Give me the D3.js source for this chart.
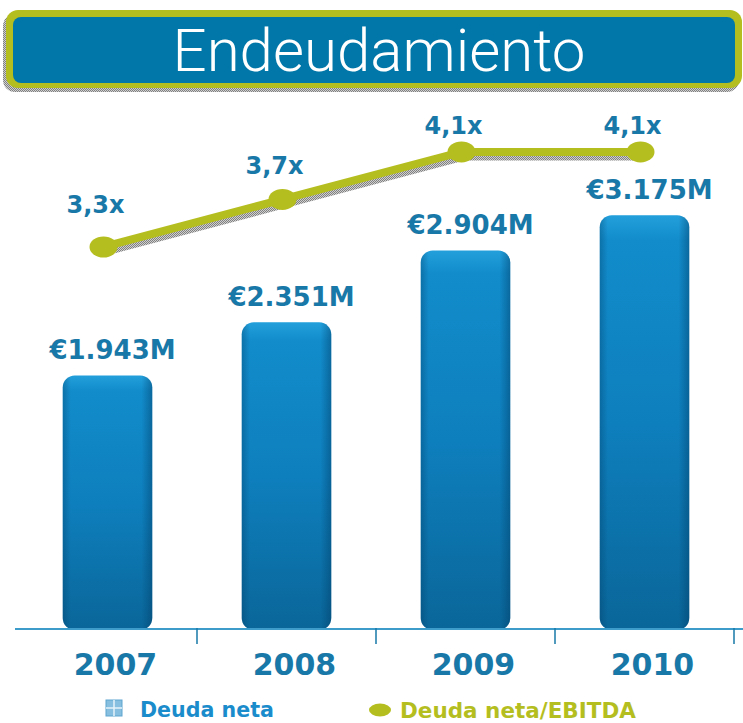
<!DOCTYPE html>
<html>
<head>
<meta charset="utf-8">
<script src="https://cdn.jsdelivr.net/npm/d3@7"></script>
<style>
  html, body { margin: 0; padding: 0; background: #ffffff; }
  svg { display: block; }
</style>
</head>
<body>
<svg id="chart" width="743" height="723"></svg>
<script>
// Net debt (millions of euros) and net debt / EBITDA by year
const years = ["2007", "2008", "2009", "2010"];
const deudaNeta = [1943, 2351, 2904, 3175];
const ratioEbitda = [3.3, 3.7, 4.1, 4.1];
const titleText = "Endeudamiento";
const legendLabels = ["Deuda neta", "Deuda neta/EBITDA"];

const W = 743, H = 723;
const baseY = 628;
const blue = "#1878a7";
const olive = "#b5be1f";

const es = d3.formatLocale({ decimal: ",", thousands: ".", grouping: [3], currency: ["€", ""] });
const fmtDebt = v => "€" + es.format(",")(v) + "M";
const fmtRatio = v => es.format(".1f")(v) + "x";

const svg = d3.select("#chart");
const defs = svg.append("defs");

// bar body gradient
const gBar = defs.append("linearGradient").attr("id", "barFill")
  .attr("x1", 0).attr("y1", 0).attr("x2", 0).attr("y2", 1);
gBar.append("stop").attr("offset", "0%").attr("stop-color", "#23a0dc");
gBar.append("stop").attr("offset", "6%").attr("stop-color", "#128ccb");
gBar.append("stop").attr("offset", "50%").attr("stop-color", "#0e7fbd");
gBar.append("stop").attr("offset", "100%").attr("stop-color", "#0a6699");

// side shading for the rounded bars
const gSide = defs.append("linearGradient").attr("id", "barSide")
  .attr("x1", 0).attr("y1", 0).attr("x2", 1).attr("y2", 0);
gSide.append("stop").attr("offset", "0%").attr("stop-color", "#003d66").attr("stop-opacity", 0.35);
gSide.append("stop").attr("offset", "9%").attr("stop-color", "#003d66").attr("stop-opacity", 0);
gSide.append("stop").attr("offset", "88%").attr("stop-color", "#003d66").attr("stop-opacity", 0);
gSide.append("stop").attr("offset", "100%").attr("stop-color", "#003d66").attr("stop-opacity", 0.45);

// dotted grey shadow texture
const pat = defs.append("pattern").attr("id", "dots")
  .attr("width", 2).attr("height", 2).attr("patternUnits", "userSpaceOnUse");
pat.append("rect").attr("width", 2).attr("height", 2).attr("fill", "#d0d0d0");
pat.append("rect").attr("width", 1).attr("height", 1).attr("fill", "#808080");
pat.append("rect").attr("x", 1).attr("y", 1).attr("width", 1).attr("height", 1).attr("fill", "#808080");

// ---- title banner ----
const title = svg.append("g");
title.append("rect").attr("x", 3).attr("y", 14).attr("width", 736).attr("height", 78)
  .attr("rx", 12).attr("fill", "url(#dots)");
title.append("rect").attr("x", 6).attr("y", 10).attr("width", 736).attr("height", 78)
  .attr("rx", 12).attr("fill", olive);
title.append("rect").attr("x", 13).attr("y", 17).attr("width", 722).attr("height", 66)
  .attr("rx", 8).attr("fill", "#0077a8");
title.append("text").attr("x", 379).attr("y", 50).attr("dy", "0.35em")
  .attr("text-anchor", "middle")
  .attr("font-family", "'Liberation Sans Narrow', 'Roboto', sans-serif")
  .attr("font-weight", 300)
  .attr("font-size", 60).attr("fill", "#ffffff")
  .text(titleText);

// ---- scales ----
const x = d3.scaleBand().domain(years).range([18, 734]).paddingInner(0.5).paddingOuter(0.25);
const yDebt = d3.scaleLinear().domain([0, 4200]).range([baseY, 82]);
const yRatio = d3.scaleLinear().domain([0, 5]).range([639, 45]);
const yRatioLabel = d3.scaleLinear().domain([0, 5]).range([540, 45]);

// ---- bars ----
const bars = svg.append("g");
const rows = years.map((y, i) => ({ year: y, debt: deudaNeta[i], ratio: ratioEbitda[i] }));
bars.selectAll("rect.bar").data(rows).join("rect").attr("class", "bar")
  .attr("x", d => x(d.year)).attr("y", d => yDebt(d.debt))
  .attr("width", x.bandwidth()).attr("height", d => baseY + 2 - yDebt(d.debt))
  .attr("rx", 12).attr("fill", "url(#barFill)");
bars.selectAll("rect.side").data(rows).join("rect").attr("class", "side")
  .attr("x", d => x(d.year)).attr("y", d => yDebt(d.debt))
  .attr("width", x.bandwidth()).attr("height", d => baseY + 2 - yDebt(d.debt))
  .attr("rx", 12).attr("fill", "url(#barSide)");

bars.selectAll("text.val").data(rows).join("text").attr("class", "val")
  .attr("x", d => x(d.year) + x.bandwidth() / 2 + 5)
  .attr("y", d => yDebt(d.debt) - 16)
  .attr("text-anchor", "middle")
  .attr("font-family", "'DejaVu Sans', sans-serif").attr("font-weight", "bold")
  .attr("font-size", 26).attr("fill", blue)
  .text(d => fmtDebt(d.debt));

// ---- axis ----
const axisG = svg.append("g");
axisG.append("line").attr("x1", 15).attr("x2", W).attr("y1", baseY + 1).attr("y2", baseY + 1)
  .attr("stroke", "#3d9cc9").attr("stroke-width", 2);
// ticks sit on the boundaries between years
axisG.selectAll("line.tick").data(years).join("line").attr("class", "tick")
  .attr("x1", d => x(d) + x.bandwidth() / 2 + x.step() / 2)
  .attr("x2", d => x(d) + x.bandwidth() / 2 + x.step() / 2)
  .attr("y1", baseY).attr("y2", baseY + 16)
  .attr("stroke", "#1878a7").attr("stroke-width", 1.5);

const xAxis = svg.append("g").attr("transform", `translate(8,${baseY})`)
  .call(d3.axisBottom(x).tickSize(0).tickPadding(26));
xAxis.select(".domain").remove();
xAxis.selectAll("text")
  .attr("font-family", "'DejaVu Sans', sans-serif").attr("font-weight", "bold")
  .attr("font-size", 30).attr("fill", blue);

// ---- ratio line ----
const lx = d => x(d.year) + x.bandwidth() / 2 - 4;
const line = d3.line().x(lx).y(d => yRatio(d.ratio));
svg.append("path").datum(rows).attr("d", line)
  .attr("transform", "translate(3,5)")
  .attr("fill", "none").attr("stroke", "url(#dots)").attr("stroke-width", 7);
svg.append("path").datum(rows).attr("d", line)
  .attr("fill", "none").attr("stroke", olive).attr("stroke-width", 8);
svg.selectAll("ellipse.pt").data(rows).join("ellipse").attr("class", "pt")
  .attr("cx", lx).attr("cy", d => yRatio(d.ratio))
  .attr("rx", 14).attr("ry", 10.5).attr("fill", olive);

svg.selectAll("text.ratio").data(rows).join("text").attr("class", "ratio")
  .attr("x", d => lx(d) - 8).attr("y", d => yRatioLabel(d.ratio))
  .attr("text-anchor", "middle")
  .attr("font-family", "'DejaVu Sans', sans-serif").attr("font-weight", "bold")
  .attr("font-size", 24).attr("fill", blue)
  .text(d => fmtRatio(d.ratio));

// ---- legend ----
const leg = svg.append("g");
const icon = leg.append("g").attr("transform", "translate(106,700)");
icon.append("rect").attr("width", 16).attr("height", 16).attr("fill", "#86bfdf").attr("stroke", "#5fa5cf");
icon.append("line").attr("x1", 8).attr("x2", 8).attr("y1", 0).attr("y2", 16).attr("stroke", "#e6f3fa").attr("stroke-width", 1.5);
icon.append("line").attr("x1", 0).attr("x2", 16).attr("y1", 8).attr("y2", 8).attr("stroke", "#e6f3fa").attr("stroke-width", 1.5);
leg.append("text").attr("x", 140).attr("y", 717)
  .attr("font-family", "'DejaVu Sans', sans-serif").attr("font-weight", "bold")
  .attr("font-size", 20.6).attr("fill", "#1a8ccc").text(legendLabels[0]);
leg.append("ellipse").attr("cx", 380).attr("cy", 710).attr("rx", 11).attr("ry", 6.5).attr("fill", olive);
leg.append("text").attr("x", 400).attr("y", 718)
  .attr("font-family", "'DejaVu Sans', sans-serif").attr("font-weight", "bold")
  .attr("font-size", 21.5).attr("fill", olive).text(legendLabels[1]);
</script>
</body>
</html>
